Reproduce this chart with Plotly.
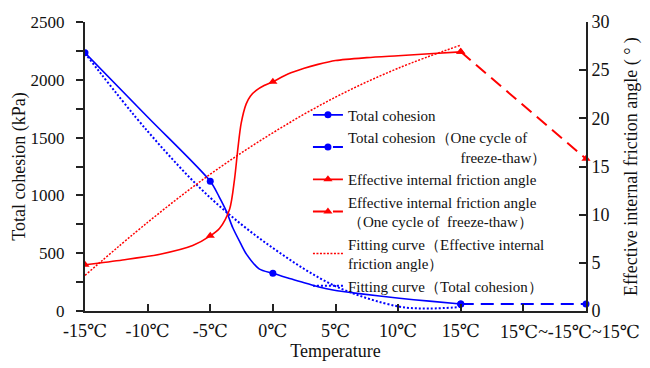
import plotly.graph_objects as go

# ---------------- data ----------------
# x axis in temperature units; the last category sits at position 25
tick_vals = [-15, -10, -5, 0, 5, 10, 15, 20, 25]
tick_text = ["-15℃", "-10℃", "-5℃", "0℃", "5℃", "10℃", "15℃", "", ""]
cycle_label = "15℃~-15℃~15℃"
cycle_x = 25

# measured points
temp_pts = [-15, -5, 0, 15]
cohesion_pts = [2234, 1122, 326, 60]
angle_pts = [4.8, 7.8, 23.8, 26.9]

# one cycle of freeze-thaw
cycle_cohesion = 60
cycle_angle = 15.8

coh_curve_x = [-15, -10, -5, -4.3, -3.7, -3.2, -2.6, -2.1, -1.1, 0, 1.2, 2.5, 3.6, 4.8, 6.9, 10.1, 12.5, 15]
coh_curve_y = [2234, 1678, 1122, 990, 860, 720, 590, 490, 365, 326, 285, 245, 210, 182, 150, 110, 85, 60]

ang_curve_x = [-15, -12, -9, -6.4, -5, -4.25, -3.45, -3.06, -2.8, -2.53, -2.13, -1.8, -1.33, -0.7,
               0, 1.2, 2.5, 3.6, 5, 7.5, 10, 12.5, 15]
ang_curve_y = [4.8, 5.3, 5.9, 6.8, 7.8, 8.6, 10.6, 13.7, 16.8, 19.5, 21.5, 22.3, 22.9, 23.4,
               23.8, 24.6, 25.2, 25.6, 26.0, 26.3, 26.5, 26.7, 26.9]

# fitting curves
fit_ang_x = [-15, -10, -5, 0, 5, 10, 15]
fit_ang_y = [3.7, 9.2, 14.2, 18.5, 22.2, 25.2, 27.6]
fit_coh_x = [-15, -10, -5, 0, 5, 10, 12.5, 15]
fit_coh_y = [2230, 1555, 980, 545, 215, 40, 22, 35]

legend_names = [
    "Total cohesion",
    "Total cohesion（One cycle of<br>" + "\u00a0" * 30 + "freeze-thaw）",
    "Effective internal friction angle",
    "Effective internal friction angle<br>（One cycle of  freeze-thaw）",
    "Fitting curve（Effective internal<br>friction angle）",
    "Fitting curve（Total cohesion）",
]

BLUE = "#0000FF"
RED = "#FF0000"
FONT = "Liberation Serif, DejaVu Serif, serif"

fig = go.Figure()

# blue solid curve + markers
fig.add_trace(go.Scatter(x=coh_curve_x, y=coh_curve_y, mode="lines",
                         line=dict(color=BLUE, width=1.6, shape="spline", smoothing=0.8),
                         showlegend=False, hoverinfo="skip"))
fig.add_trace(go.Scatter(x=temp_pts, y=cohesion_pts, mode="markers",
                         marker=dict(color=BLUE, size=7, symbol="circle"),
                         showlegend=False))
# blue dashed (one cycle)
fig.add_trace(go.Scatter(x=[temp_pts[-1], cycle_x], y=[cohesion_pts[-1], cycle_cohesion],
                         mode="lines+markers",
                         line=dict(color=BLUE, width=2, dash="13px,7px"),
                         marker=dict(color=BLUE, size=7, symbol="circle"),
                         name=legend_names[1], legendrank=2, cliponaxis=False))
# red solid curve + markers
fig.add_trace(go.Scatter(x=ang_curve_x, y=ang_curve_y, yaxis="y2", mode="lines",
                         line=dict(color=RED, width=1.6, shape="spline", smoothing=0.8),
                         showlegend=False, hoverinfo="skip"))
fig.add_trace(go.Scatter(x=temp_pts, y=angle_pts, yaxis="y2", mode="markers",
                         marker=dict(color=RED, size=8, symbol="triangle-up"),
                         showlegend=False))
# red dashed (one cycle)
fig.add_trace(go.Scatter(x=[temp_pts[-1], cycle_x], y=[angle_pts[-1], cycle_angle], yaxis="y2",
                         mode="lines+markers",
                         line=dict(color=RED, width=2, dash="13px,7px"),
                         marker=dict(color=RED, size=8, symbol="triangle-up"),
                         name=legend_names[3], legendrank=4, cliponaxis=False))
# fitting curves
fig.add_trace(go.Scatter(x=fit_ang_x, y=fit_ang_y, yaxis="y2", mode="lines",
                         line=dict(color=RED, width=1.5, dash="2px,1.5px", shape="spline"),
                         name=legend_names[4], legendrank=5))
fig.add_trace(go.Scatter(x=fit_coh_x, y=fit_coh_y, mode="lines",
                         line=dict(color=BLUE, width=2, dash="2px,2px", shape="spline"),
                         name=legend_names[5], legendrank=6))
# legend entries for the solid series (line + marker)
fig.add_trace(go.Scatter(x=[None], y=[None], mode="lines+markers",
                         line=dict(color=BLUE, width=1.6),
                         marker=dict(color=BLUE, size=7, symbol="circle"),
                         name=legend_names[0], legendrank=1))
fig.add_trace(go.Scatter(x=[None], y=[None], mode="lines+markers", yaxis="y2",
                         line=dict(color=RED, width=1.6),
                         marker=dict(color=RED, size=8, symbol="triangle-up"),
                         name=legend_names[2], legendrank=3))

axis_line = dict(showline=True, linecolor="#222", linewidth=2, showgrid=False,
                 zeroline=False, tickcolor="#222", tickwidth=2)

fig.update_layout(
    width=650, height=368,
    margin=dict(l=85, r=62, t=17, b=57),
    paper_bgcolor="white", plot_bgcolor="white",
    font=dict(family=FONT, color="#111"),
    xaxis=dict(range=[-15, 25], tickmode="array", tickvals=tick_vals, ticktext=tick_text,
               ticks="inside", ticklen=7, ticklabelstandoff=2,
               tickfont=dict(family=FONT, size=18, color="#111"),
               title=dict(text="Temperature", font=dict(family=FONT, size=18), standoff=3),
               **axis_line),
    yaxis=dict(range=[0, 2500], dtick=500, ticks="outside", ticklen=7, ticklabelstandoff=8,
               tickfont=dict(family=FONT, size=17, color="#111"),
               minor=dict(dtick=250, ticks="outside", ticklen=7, tickcolor="#222", tickwidth=2),
               title=dict(text="Total cohesion (kPa)", font=dict(family=FONT, size=18), standoff=0),
               **axis_line),
    yaxis2=dict(range=[0, 30], dtick=5, overlaying="y", side="right", anchor="x",
                ticks="inside", ticklen=7,
                tickfont=dict(family=FONT, size=18, color="#111"),
                title=dict(text="Effective internal friction angle ( ° )",
                           font=dict(family=FONT, size=18), standoff=16),
                **axis_line),
    legend=dict(x=0.445, y=0.735, xanchor="left", yanchor="top",
                bgcolor="rgba(0,0,0,0)", font=dict(family=FONT, size=15, color="#111"),
                tracegroupgap=0, itemwidth=30),
    showlegend=True,
)

fig.add_annotation(x=cycle_x - 1.3, y=0, xref="x", yref="paper", yanchor="top", yshift=-9,
                   text=cycle_label, showarrow=False,
                   font=dict(family=FONT, size=18, color="#111"))

fig.write_html("out.html")
